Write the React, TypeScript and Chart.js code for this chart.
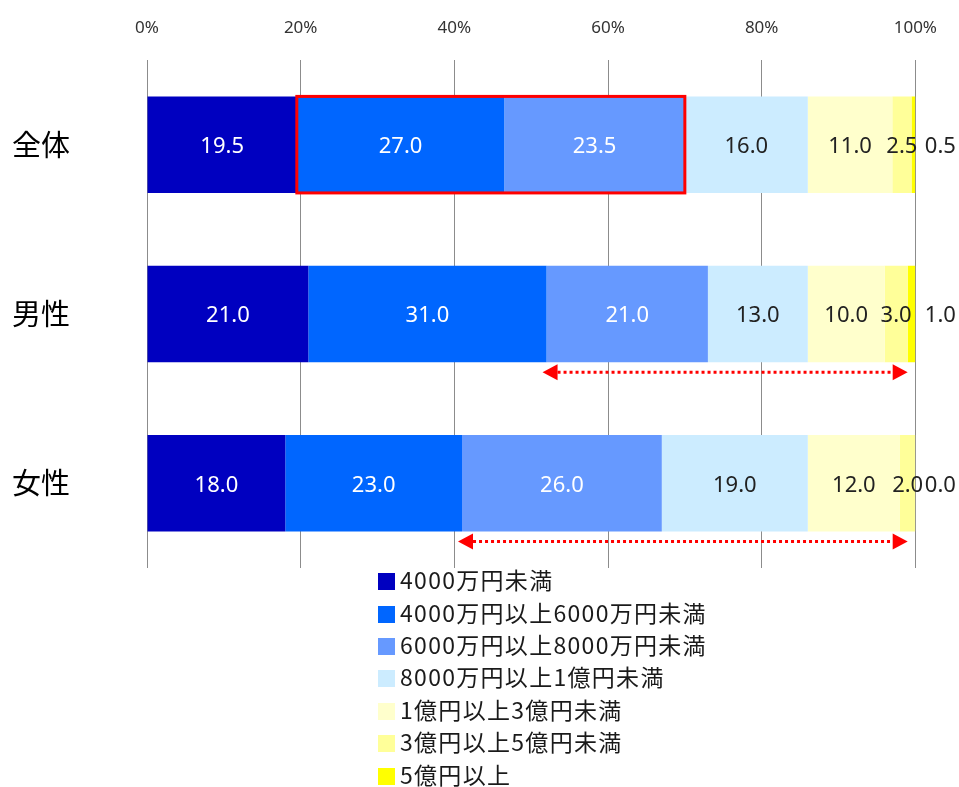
import React, { useEffect, useRef } from "react";
import { Chart, registerables } from "chart.js";

Chart.register(...registerables);

const categories = ["全体", "男性", "女性"];
const seriesNames = [
  "4000万円未満",
  "4000万円以上6000万円未満",
  "6000万円以上8000万円未満",
  "8000万円以上1億円未満",
  "1億円以上3億円未満",
  "3億円以上5億円未満",
  "5億円以上",
];
const s1 = [19.5, 21.0, 18.0];
const s2 = [27.0, 31.0, 23.0];
const s3 = [23.5, 21.0, 26.0];
const s4 = [16.0, 13.0, 19.0];
const s5 = [11.0, 10.0, 12.0];
const s6 = [2.5, 3.0, 2.0];
const s7 = [0.5, 1.0, 0.0];
const seriesValues = [s1, s2, s3, s4, s5, s6, s7];
const colors = ["#0000C0", "#0066FF", "#6699FF", "#CCECFF", "#FFFFCC", "#FFFF99", "#FFFF00"];
const labelColors = ["#FFFFFF", "#FFFFFF", "#FFFFFF", "#222222", "#222222", "#222222", "#222222"];
const xTicks = [0, 20, 40, 60, 80, 100];

// annotations (in data units)
const highlightCategory = 0; // 全体: box around series 2 and 3
const arrowCategories = [1, 2];
const arrowStart = [52, 41];
const arrowEnd = [99, 99];

const annotPlugin = {
  id: "annot",
  afterDatasetsDraw(chart: any) {
    const ctx = chart.ctx;
    const xs = chart.scales.x;
    ctx.save();
    ctx.font = "22px 'Noto Sans'";
    ctx.textAlign = "center";
    ctx.textBaseline = "middle";
    chart.data.datasets.forEach((ds: any, di: number) => {
      const meta = chart.getDatasetMeta(di);
      meta.data.forEach((bar: any, i: number) => {
        const v = ds.data[i];
        let cx = (bar.x + bar.base) / 2;
        if (di === chart.data.datasets.length - 1) cx = xs.getPixelForValue(100) + 25;
        ctx.fillStyle = labelColors[di];
        ctx.fillText(v.toFixed(1), cx, bar.y + 2);
      });
    });
    // red box
    const m1 = chart.getDatasetMeta(1).data[highlightCategory];
    const m2 = chart.getDatasetMeta(2).data[highlightCategory];
    ctx.strokeStyle = "#FF0000";
    ctx.lineWidth = 3;
    const top = m1.y - m1.height / 2;
    ctx.strokeRect(m1.base, top, m2.x - m1.base, m1.height);
    // arrows
    ctx.fillStyle = "#FF0000";
    arrowCategories.forEach((ci, k) => {
      const b = chart.getDatasetMeta(0).data[ci];
      const y = b.y + b.height / 2 + 10;
      const x0 = xs.getPixelForValue(arrowStart[k]) - 4;
      const x1 = xs.getPixelForValue(arrowEnd[k]);
      const head = 15;
      ctx.setLineDash([3, 3]);
      ctx.lineWidth = 3;
      ctx.beginPath();
      ctx.moveTo(x0 + head, y);
      ctx.lineTo(x1 - head, y);
      ctx.stroke();
      ctx.setLineDash([]);
      ctx.beginPath();
      ctx.moveTo(x0, y);
      ctx.lineTo(x0 + head, y - 8);
      ctx.lineTo(x0 + head, y + 8);
      ctx.closePath();
      ctx.fill();
      ctx.beginPath();
      ctx.moveTo(x1, y);
      ctx.lineTo(x1 - head, y - 8);
      ctx.lineTo(x1 - head, y + 8);
      ctx.closePath();
      ctx.fill();
    });
    ctx.restore();
  },
};

export default function App() {
  const ref = useRef<HTMLCanvasElement>(null);
  useEffect(() => {
    const chart = new Chart(ref.current!, {
      type: "bar",
      data: {
        labels: categories,
        datasets: seriesValues.map((vals, i) => ({
          label: seriesNames[i],
          data: vals,
          backgroundColor: colors[i],
          borderWidth: 0,
          barPercentage: 0.57,
          categoryPercentage: 1,
        })),
      },
      options: {
        indexAxis: "y",
        animation: false,
        responsive: false,
        maintainAspectRatio: false,
        layout: { padding: { left: 12, right: 41, top: 0, bottom: 219 } },
        plugins: { legend: { display: false }, tooltip: { enabled: false } },
        scales: {
          x: {
            position: "top",
            stacked: true,
            min: 0,
            max: 100,
            afterFit: (s: any) => { s.height = 60; },
            afterBuildTicks: (s: any) => { s.ticks = xTicks.map((v) => ({ value: v })); },
            ticks: {
              callback: (v: any) => v + "%",
              font: { family: "'Noto Sans'", size: 17 },
              color: "#333333",
              padding: 22,
              maxRotation: 0,
            },
            grid: { color: "#8C8C8C", lineWidth: 1, drawTicks: false },
            border: { display: false },
          },
          y: {
            stacked: true,
            afterFit: (s: any) => { s.width = 135; },
            ticks: {
              font: { family: "'Noto Sans CJK JP'", size: 29 },
              color: "#000000",
              padding: 0,
              crossAlign: "far",
            },
            grid: { display: false, drawTicks: false },
            border: { display: false },
          },
        },
      },
      plugins: [annotPlugin],
    } as any);
    return () => chart.destroy();
  }, []);
  return (
    <div style={{ position: "absolute", left: 0, top: 0, width: 959, height: 787, background: "#fff" }}>
      <canvas ref={ref} width={959} height={787} style={{ position: "absolute", left: 0, top: 0 }} />
      <div style={{ position: "absolute", left: 378, top: 563, fontFamily: "'Noto Sans CJK JP'", fontSize: 23, color: "#1a1a1a", letterSpacing: 1.3 }}>
        {seriesNames.map((n, i) => (
          <div key={n} style={{ display: "flex", alignItems: "center", height: 32.4, whiteSpace: "nowrap" }}>
            <span style={{ display: "inline-block", width: 17, height: 17, background: colors[i], marginRight: 5, marginTop: 5 }} />
            <span>{n}</span>
          </div>
        ))}
      </div>
    </div>
  );
}
